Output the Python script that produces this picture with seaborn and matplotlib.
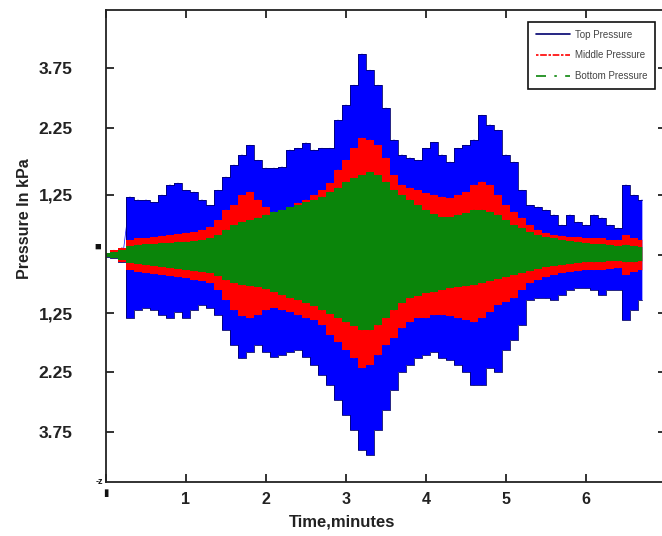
import numpy as np
import matplotlib
matplotlib.use("Agg")
import matplotlib.pyplot as plt
from matplotlib.lines import Line2D
import seaborn as sns

# sample times (minutes) and envelopes (axis tick units)
time_min = np.round(np.arange(68) * 0.1, 1)

top_upper = [0.03, 0.08, 0.12, 0.97, 0.92, 0.92, 0.88, 1.00, 1.17, 1.20,
             1.08, 1.05, 0.92, 0.83, 1.08, 1.30, 1.50, 1.67, 1.83, 1.58,
             1.45, 1.45, 1.47, 1.75, 1.78, 1.87, 1.75, 1.78, 1.78, 2.25,
             2.50, 2.83, 3.35, 3.08, 2.83, 2.45, 1.92, 1.67, 1.62, 1.58,
             1.78, 1.88, 1.67, 1.55, 1.78, 1.83, 1.92, 2.33, 2.17, 2.08,
             1.67, 1.55, 1.08, 0.83, 0.80, 0.75, 0.67, 0.50, 0.67, 0.55,
             0.50, 0.67, 0.62, 0.50, 0.45, 1.17, 1.00, 0.92]
top_lower = [-0.03, -0.05, -0.12, -1.05, -0.92, -0.88, -0.92, -1.00, -1.05, -0.95,
             -1.05, -0.92, -0.83, -0.88, -1.00, -1.25, -1.50, -1.72, -1.62, -1.50,
             -1.62, -1.70, -1.67, -1.62, -1.58, -1.70, -1.83, -2.00, -2.17, -2.42,
             -2.67, -2.92, -3.25, -3.33, -2.92, -2.58, -2.25, -1.95, -1.83, -1.72,
             -1.67, -1.62, -1.72, -1.75, -1.83, -1.95, -2.17, -2.17, -1.88, -1.95,
             -1.58, -1.42, -1.17, -0.75, -0.72, -0.72, -0.75, -0.67, -0.58, -0.55,
             -0.55, -0.58, -0.67, -0.58, -0.58, -1.08, -0.92, -0.75]

mid_upper = [0.03, 0.08, 0.12, 0.25, 0.28, 0.28, 0.30, 0.32, 0.33, 0.35,
             0.37, 0.38, 0.42, 0.47, 0.58, 0.75, 0.83, 1.00, 1.05, 0.92,
             0.80, 0.72, 0.75, 0.78, 0.87, 0.92, 1.00, 1.08, 1.20, 1.42,
             1.58, 1.78, 1.95, 1.92, 1.83, 1.62, 1.33, 1.17, 1.12, 1.08,
             1.03, 1.00, 0.97, 0.95, 1.00, 1.05, 1.17, 1.22, 1.17, 1.00,
             0.83, 0.72, 0.62, 0.50, 0.42, 0.37, 0.33, 0.32, 0.30, 0.30,
             0.28, 0.28, 0.28, 0.25, 0.25, 0.33, 0.28, 0.25]
mid_lower = [-0.03, -0.05, -0.12, -0.25, -0.28, -0.30, -0.32, -0.33, -0.35, -0.37,
             -0.38, -0.42, -0.43, -0.47, -0.58, -0.75, -0.92, -1.02, -1.05, -1.00,
             -0.92, -0.88, -0.92, -0.95, -1.00, -1.05, -1.08, -1.17, -1.33, -1.45,
             -1.58, -1.72, -1.88, -1.83, -1.67, -1.50, -1.38, -1.22, -1.12, -1.05,
             -1.05, -1.00, -1.00, -1.02, -1.05, -1.08, -1.12, -1.05, -0.95, -0.83,
             -0.78, -0.72, -0.58, -0.47, -0.42, -0.37, -0.33, -0.30, -0.28, -0.27,
             -0.25, -0.25, -0.25, -0.23, -0.22, -0.33, -0.28, -0.25]

bot_upper = [0.03, 0.05, 0.08, 0.15, 0.17, 0.18, 0.18, 0.20, 0.20, 0.22,
             0.22, 0.23, 0.25, 0.28, 0.33, 0.42, 0.50, 0.55, 0.58, 0.62,
             0.67, 0.72, 0.75, 0.80, 0.83, 0.88, 0.92, 0.97, 1.05, 1.12,
             1.22, 1.28, 1.33, 1.38, 1.33, 1.22, 1.08, 1.00, 0.92, 0.83,
             0.75, 0.68, 0.63, 0.63, 0.67, 0.70, 0.75, 0.75, 0.72, 0.67,
             0.58, 0.50, 0.45, 0.38, 0.33, 0.30, 0.28, 0.25, 0.23, 0.22,
             0.20, 0.18, 0.18, 0.17, 0.15, 0.17, 0.15, 0.13]
bot_lower = [-0.03, -0.05, -0.08, -0.13, -0.15, -0.17, -0.18, -0.20, -0.22, -0.23,
             -0.25, -0.27, -0.28, -0.30, -0.35, -0.42, -0.47, -0.50, -0.52, -0.53,
             -0.57, -0.62, -0.67, -0.72, -0.75, -0.80, -0.85, -0.92, -0.98, -1.05,
             -1.12, -1.18, -1.25, -1.25, -1.17, -1.05, -0.92, -0.80, -0.72, -0.68,
             -0.63, -0.62, -0.58, -0.55, -0.53, -0.52, -0.50, -0.47, -0.43, -0.40,
             -0.37, -0.33, -0.30, -0.27, -0.23, -0.20, -0.18, -0.17, -0.15, -0.13,
             -0.12, -0.12, -0.12, -0.10, -0.10, -0.12, -0.12, -0.10]

series_names = ["Top Pressure", "Middle Pressure", "Bottom Pressure"]
series_colors = ["#0000ff", "#ff0000", "#0a850a"]
series_styles = ["-", (0, (1.5, 1, 4, 1)), (0, (6, 5, 1.5, 5))]

ytick_pos = [3.12, 2.12, 1.0, 0.0, -0.97, -1.95, -2.95]
ytick_labels = ["3.75", "2.25", "1,25", "", "1,25", "2.25", "3.75"]
xtick_pos = [0, 1, 2, 3, 4, 5, 6, 7]
xtick_labels = ["", "1", "2", "3", "4", "5", "6", "7"]

sns.set_theme(style="ticks")
plt.rcParams["font.family"] = ["Liberation Sans", "DejaVu Sans"]

fig = plt.figure(figsize=(6.62, 5.36), dpi=100)
ax = fig.add_axes([106 / 662, 54 / 536, 560 / 662, 472 / 536])

envelopes = [(top_lower, top_upper), (mid_lower, mid_upper), (bot_lower, bot_upper)]
z = 1
for (lo, up), c in zip(envelopes, series_colors):
    ax.fill_between(time_min, lo, up, step="mid", color=c, lw=0, zorder=z)
    # oscillation drawn as a zigzag between the envelopes
    zx = np.repeat(time_min, 2)
    zy = np.ravel(np.column_stack([up, lo]))
    sns.lineplot(x=zx, y=zy, sort=False, estimator=None, color=c, lw=0.5, ax=ax, zorder=z + 0.1)
    if z == 1:
        # dark spikes on the outer edge of the top pressure band
        ax.step(time_min, up, where="mid", color="#00006e", lw=0.6, zorder=z + 0.2)
        ax.step(time_min, lo, where="mid", color="#00006e", lw=0.6, zorder=z + 0.2)
    z += 1

ax.set_xlim(0, 7)
ax.set_ylim(-3.78, 4.08)
ax.set_xticks(xtick_pos)
ax.set_xticklabels(xtick_labels)
ax.set_yticks(ytick_pos)
ax.set_yticklabels(ytick_labels)
for s in ax.spines.values():
    s.set_color("#222222")
    s.set_linewidth(1.3)
    s.set_zorder(10)
ax.tick_params(axis="both", direction="in", length=6, width=1.3, colors="#222222",
               top=True, right=True, labelsize=12.5)
ax.tick_params(axis="y", pad=24)
ax.tick_params(axis="x", pad=7, labelsize=11.5)
for lab in ax.get_xticklabels() + ax.get_yticklabels():
    lab.set_fontweight("bold")

ax.set_xlabel("Time,minutes", fontsize=12, fontweight="bold", color="#222222")
ax.set_ylabel("Pressure In kPa", fontsize=11.5, fontweight="bold", color="#222222")
ax.xaxis.set_label_coords(0.421, -0.068)
ax.yaxis.set_label_coords(-0.132, 0.559)

# small garbled zero marks of the original
fig.text(98 / 662, 1 - 247 / 536, "\u25a0", fontsize=8, ha="center", va="center", color="#111111")
fig.text(106 / 662, 1 - 493 / 536, "\u25ae", fontsize=7, ha="center", va="center", color="#111111")
fig.text(99 / 662, 1 - 481 / 536, "-z", fontsize=6.5, fontweight="bold", ha="center", va="center", color="#111111")

handles = [Line2D([0], [0], color=c, ls=ls, lw=1.2) for c, ls in zip(series_colors, series_styles)]
handles[0].set_color("#00006e")
leg = ax.legend(handles, series_names, loc="upper right",
                bbox_to_anchor=(655 / 662, 1 - 22 / 536), bbox_transform=fig.transFigure,
                fontsize=7, handlelength=3.5, handletextpad=0.5, labelspacing=1.1,
                borderpad=0.8, borderaxespad=0, fancybox=False, framealpha=1)
leg.set_zorder(20)
leg.get_frame().set_edgecolor("#111111")
leg.get_frame().set_linewidth(1.2)
for txt in leg.get_texts():
    txt.set_color("#444444")

fig.savefig("out.png", dpi=100)
